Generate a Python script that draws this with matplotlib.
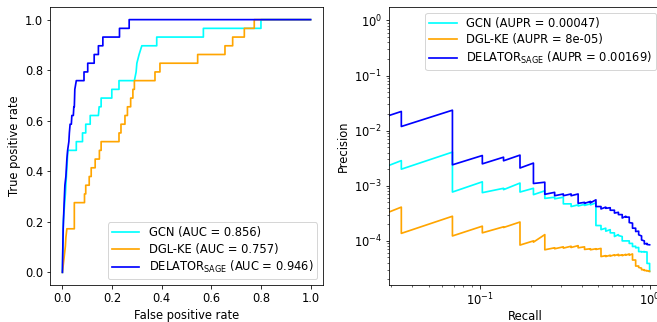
import numpy as np
import matplotlib
matplotlib.use("Agg")
from matplotlib import pyplot as plt

# ROC curves (fpr, tpr as count of positives out of 29)
N_POS = 29
gcn_fpr = [0, 0.004, 0.012, 0.016, 0.020, 0.022, 0.056, 0.056, 0.081, 0.081, 0.094, 0.094,
           0.112, 0.112, 0.145, 0.148, 0.156, 0.156, 0.199, 0.199, 0.228, 0.228, 0.290, 0.297,
           0.300, 0.309, 0.320, 0.380, 0.380, 0.568, 0.568, 0.800, 0.800, 1.0]
gcn_tp = [0, 6, 9, 11, 13, 14, 14, 15, 15, 16, 16, 17,
          17, 18, 18, 19, 19, 20, 20, 21, 21, 22, 22, 23,
          24, 25, 26, 26, 27, 27, 28, 28, 29, 29]

dgl_fpr = [0, 0.004, 0.008, 0.012, 0.014, 0.018, 0.048, 0.048, 0.089, 0.089, 0.094, 0.094,
           0.108, 0.108, 0.116, 0.116, 0.132, 0.132, 0.149, 0.149, 0.156, 0.156, 0.228, 0.228,
           0.236, 0.236, 0.252, 0.252, 0.262, 0.262, 0.275, 0.275, 0.284, 0.284, 0.290, 0.290,
           0.373, 0.373, 0.393, 0.393, 0.545, 0.545, 0.655, 0.655, 0.686, 0.686, 0.733, 0.733,
           0.773, 0.773, 1.0]
dgl_tp = [0, 1, 2, 3, 4, 5, 5, 8, 8, 9, 9, 10,
          10, 11, 11, 12, 12, 13, 13, 14, 14, 15, 15, 16,
          16, 17, 17, 18, 18, 19, 19, 20, 20, 21, 21, 22,
          22, 23, 23, 24, 24, 25, 25, 26, 26, 27, 27, 28,
          28, 29, 29]

sage_fpr = [0, 0.003, 0.007, 0.010, 0.014, 0.018, 0.021, 0.026, 0.028, 0.031, 0.036, 0.038,
            0.044, 0.046, 0.048, 0.050, 0.056, 0.087, 0.087, 0.102, 0.102, 0.128, 0.128, 0.145,
            0.145, 0.163, 0.163, 0.230, 0.230, 0.269, 0.269, 1.0]
sage_tp = [0, 5, 8, 10, 11, 13, 14, 15, 16, 17, 17, 18,
           18, 19, 19, 21, 22, 22, 23, 23, 24, 24, 25, 25,
           26, 26, 27, 27, 28, 28, 29, 29]

auc_vals = [0.856, 0.757, 0.946]
aupr_vals = ["0.00047", "8e-05", "0.00169"]

# PR curves: precision at each recall level k/29 (value when reached, value when left)
gcn_lead = 0.00125
gcn_top = [0.00286, 0.00408, 0.00118, 0.00090, 0.00112, 0.00090, 0.00081, 0.00062, 0.00062, 0.00047,
           0.00045, 0.00046, 0.00047, 0.00049, 0.00019, 0.00017, 0.00016, 0.00014, 0.00013, 0.00012,
           0.00010, 0.00010, 9.0e-5, 8.0e-5, 7.6e-5, 6.4e-5, 6.4e-5, 6.3e-5, 3.9e-5]
gcn_bot = [0.00200, 0.00077, 0.00075, 0.00085, 0.00077, 0.00069, 0.00059, 0.00058, 0.00047, 0.00042,
           0.00043, 0.00044, 0.00045, 0.00019, 0.00016, 0.00015, 0.00014, 0.00012, 0.000125, 0.00010,
           0.00010, 9.0e-5, 7.9e-5, 7.5e-5, 6.4e-5, 6.3e-5, 6.3e-5, 3.9e-5, 2.8e-5]

dgl_lead = 0.000175
dgl_top = [0.00041, 0.00028, 0.000185, 0.00018, 0.00022, 0.00010, 0.00013, 7.5e-5, 7.8e-5, 8.0e-5,
           8.2e-5, 7.8e-5, 7.2e-5, 7.2e-5, 7.3e-5, 5.4e-5, 5.5e-5, 5.6e-5, 5.7e-5, 5.6e-5,
           5.7e-5, 5.8e-5, 5.8e-5, 4.5e-5, 3.5e-5, 3.2e-5, 3.0e-5, 2.9e-5, 2.85e-5]
dgl_bot = [0.000137, 0.000123, 0.00014, 0.000175, 8.4e-5, 9.5e-5, 6.9e-5, 7.2e-5, 7.4e-5, 7.6e-5,
           7.5e-5, 7.0e-5, 6.9e-5, 7.0e-5, 5.2e-5, 5.2e-5, 5.3e-5, 5.4e-5, 5.4e-5, 5.4e-5,
           5.5e-5, 5.5e-5, 4.5e-5, 3.5e-5, 3.3e-5, 3.0e-5, 2.9e-5, 2.85e-5, 2.8e-5]

sage_lead = 0.011
sage_top = [0.0223, 0.0235, 0.00354, 0.0033, 0.0036, 0.00258, 0.00116, 0.00076, 0.00071, 0.00071,
            0.00071, 0.00050, 0.00052, 0.000556, 0.00042, 0.00041, 0.00040, 0.00036, 0.00033, 0.00030,
            0.00028, 0.00027, 0.00021, 0.00017, 0.00015, 0.000123, 0.00010, 9.0e-5, 8.5e-5]
sage_bot = [0.0119, 0.0024, 0.0025, 0.00284, 0.0021, 0.0011, 0.00070, 0.00066, 0.00066, 0.00066,
            0.00048, 0.00048, 0.00049, 0.00042, 0.00038, 0.00039, 0.00036, 0.00032, 0.00030, 0.00026,
            0.00027, 0.000215, 0.00017, 0.000148, 0.000129, 0.000104, 8.8e-5, 8.6e-5, 8.5e-5]


def pr_path(lead, top, bot):
    rec = [0.5 / N_POS]
    prec = [lead]
    for k in range(len(top)):
        rec += [(k + 1) / N_POS, (k + 1) / N_POS]
        prec += [top[k], bot[k]]
    return rec, prec


plt.rcParams['font.size'] = 11.5
plt.rcParams['lines.linewidth'] = 1.7
plt.rcParams['legend.labelspacing'] = 0.3
plt.rcParams['legend.borderpad'] = 0.35
plt.rcParams['legend.handlelength'] = 2.4

W, H = 657, 322
DPI = 72
fig = plt.figure(figsize=(W / DPI, H / DPI), dpi=DPI)
ax1 = fig.add_axes([50 / W, 37 / H, 273 / W, 278 / H])
ax2 = fig.add_axes([389 / W, 37 / H, 273 / W, 278 / H])

colors = ["cyan", "orange", "blue"]
names = ["GCN", "DGL-KE", r"DELATOR$_{\rm SAGE}$"]

rocs = [(gcn_fpr, gcn_tp), (dgl_fpr, dgl_tp), (sage_fpr, sage_tp)]
for (fpr, tp), c, n, a in zip(rocs, colors, names, auc_vals):
    ax1.plot(fpr, np.array(tp) / N_POS, color=c, label='{} (AUC = {})'.format(n, a))
ax1.set_xlabel('False positive rate')
ax1.set_ylabel('True positive rate')
ax1.set_xticks([0, 0.2, 0.4, 0.6, 0.8, 1.0])
ax1.set_xlim(-0.05, 1.05)
ax1.set_ylim(-0.05, 1.05)
ax1.legend(loc='lower right')

prs = [pr_path(gcn_lead, gcn_top, gcn_bot), pr_path(dgl_lead, dgl_top, dgl_bot),
       pr_path(sage_lead, sage_top, sage_bot)]
for (rec, prec), c, n, a in zip(prs, colors, names, aupr_vals):
    ax2.plot(rec, prec, color=c, label='{} (AUPR = {})'.format(n, a))
ax2.set_xscale('log')
ax2.set_yscale('log')
ax2.set_xlim(10 ** -1.535, 10 ** 0.073)
ax2.set_ylim(10 ** -4.80, 10 ** 0.243)
ax2.set_xlabel('Recall', labelpad=1)
ax2.set_ylabel('Precision')
ax2.legend(loc='upper right')

fig.savefig('out.png', dpi=DPI)
